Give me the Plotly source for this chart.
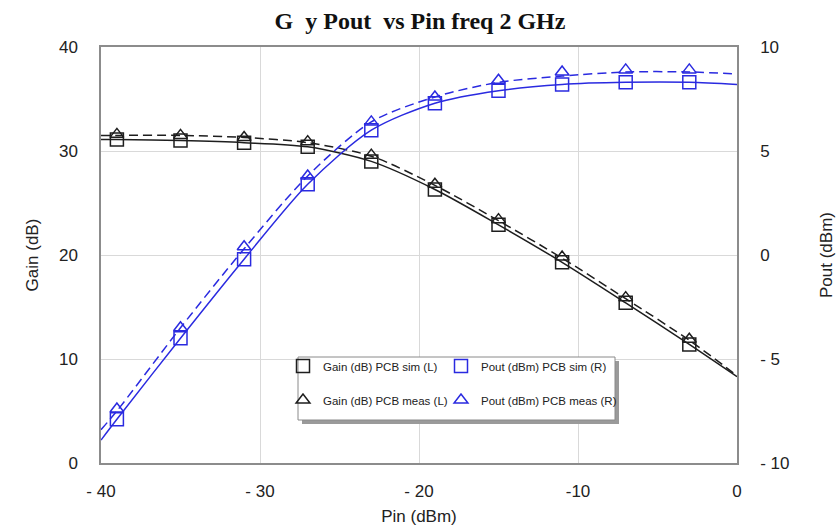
import plotly.graph_objects as go

# ---- data ----
pin_line = [-40, -39, -35, -31, -27, -23, -19, -15, -11, -7, -3, 0]
gain_sim_line = [31.1, 31.1, 31.0, 30.8, 30.4, 29.0, 26.3, 22.9, 19.3, 15.4, 11.4, 8.3]
gain_meas_line = [31.5, 31.5, 31.5, 31.3, 30.8, 29.5, 26.7, 23.3, 19.7, 15.8, 11.8, 8.4]
pout_sim_line = [-8.9, -7.9, -4.0, -0.2, 3.4, 6.0, 7.3, 7.9, 8.2, 8.3, 8.3, 8.2]
pout_meas_line = [-8.4, -7.5, -3.5, 0.3, 3.8, 6.4, 7.6, 8.3, 8.6, 8.8, 8.8, 8.7]

pin_pts = [-39, -35, -31, -27, -23, -19, -15, -11, -7, -3]
gain_sim_pts = [31.1, 31.0, 30.8, 30.4, 29.0, 26.3, 22.9, 19.3, 15.4, 11.4]
gain_meas_pts = [31.6, 31.5, 31.3, 30.9, 29.6, 26.8, 23.4, 19.8, 15.9, 11.9]
pout_sim_pts = [-7.9, -4.0, -0.2, 3.4, 6.0, 7.3, 7.9, 8.2, 8.3, 8.3]
pout_meas_pts = [-7.4, -3.5, 0.4, 3.8, 6.4, 7.6, 8.4, 8.8, 8.9, 8.9]

x_ticks = [-40, -30, -20, -10, 0]
x_ticktext = ["- 40", "- 30", "- 20", "-10", "0"]
y_ticks = [0, 10, 20, 30, 40]
y_ticktext = ["0", "10", "20", "30", "40"]
y2_ticks = [-10, -5, 0, 5, 10]
y2_ticktext = ["- 10", "- 5", "0", "5", "10"]

BLACK = "#1e1e1e"
BLUE = "#2a2ae0"
DASH = "9px,5px"
FONT = "Liberation Sans, Arial, sans-serif"

fig = go.Figure()

# curves
fig.add_trace(go.Scatter(x=pin_line, y=gain_sim_line, mode="lines", yaxis="y",
                         line=dict(color=BLACK, width=1.5, shape="spline", smoothing=0.8),
                         showlegend=False, hoverinfo="skip"))
fig.add_trace(go.Scatter(x=pin_line, y=gain_meas_line, mode="lines", yaxis="y",
                         line=dict(color=BLACK, width=1.5, dash=DASH, shape="spline", smoothing=0.8),
                         showlegend=False, hoverinfo="skip"))
fig.add_trace(go.Scatter(x=pin_line, y=pout_sim_line, mode="lines", yaxis="y2",
                         line=dict(color=BLUE, width=1.5, shape="spline", smoothing=0.8),
                         showlegend=False, hoverinfo="skip"))
fig.add_trace(go.Scatter(x=pin_line, y=pout_meas_line, mode="lines", yaxis="y2",
                         line=dict(color=BLUE, width=1.5, dash=DASH, shape="spline", smoothing=0.8),
                         showlegend=False, hoverinfo="skip"))

# markers (legend entries)
fig.add_trace(go.Scatter(x=pin_pts, y=gain_sim_pts, mode="markers", yaxis="y",
                         name="Gain (dB) PCB sim (L)", legend="legend",
                         marker=dict(symbol="square-open", size=13, color=BLACK,
                                     line=dict(width=1.5, color=BLACK))))
fig.add_trace(go.Scatter(x=pin_pts, y=pout_sim_pts, mode="markers", yaxis="y2",
                         name="Pout (dBm) PCB sim (R)", legend="legend2",
                         marker=dict(symbol="square-open", size=13, color=BLUE,
                                     line=dict(width=1.5, color=BLUE))))
fig.add_trace(go.Scatter(x=pin_pts, y=gain_meas_pts, mode="markers", yaxis="y",
                         name="Gain (dB) PCB meas (L)", legend="legend3",
                         marker=dict(symbol="triangle-up-open", size=12, color=BLACK,
                                     line=dict(width=1.5, color=BLACK))))
fig.add_trace(go.Scatter(x=pin_pts, y=pout_meas_pts, mode="markers", yaxis="y2",
                         name="Pout (dBm) PCB meas (R)", legend="legend4",
                         marker=dict(symbol="triangle-up-open", size=12, color=BLUE,
                                     line=dict(width=1.5, color=BLUE))))

L, R, T, B = 101, 102, 47, 69
W, H = 839, 532
pw, ph = W - L - R, H - T - B


def px(xp):
    return (xp - L) / pw


def py(yp):
    return (H - B - yp) / ph


leg_common = dict(bgcolor="rgba(0,0,0,0)", borderwidth=0,
                  font=dict(family=FONT, size=11.5, color="#222"),
                  xanchor="left", yanchor="middle", itemwidth=30)
fig.update_layout(
    legend=dict(x=px(283), y=py(366), **leg_common),
    legend2=dict(x=px(441), y=py(366), **leg_common),
    legend3=dict(x=px(283), y=py(400), **leg_common),
    legend4=dict(x=px(441), y=py(400), **leg_common),
)

# legend box with shadow
fig.add_shape(type="rect", xref="paper", yref="paper",
              x0=px(302), x1=px(619), y0=py(424), y1=py(361),
              fillcolor="#9a9a9a", line=dict(width=0), layer="above")
fig.add_shape(type="rect", xref="paper", yref="paper",
              x0=px(298), x1=px(615), y0=py(420), y1=py(357),
              fillcolor="white", line=dict(color="#8a8a8a", width=1), layer="above")

axis_common = dict(showline=True, linecolor="#8c8c8c", linewidth=1.5, zeroline=False,
                   tickfont=dict(family=FONT, size=17, color="#222"),
                   ticks="outside", tickcolor="rgba(0,0,0,0)")

fig.update_layout(
    width=W, height=H,
    margin=dict(l=L, r=R, t=T, b=B, autoexpand=False),
    paper_bgcolor="white", plot_bgcolor="white",
    title=dict(text="<b>G\u00a0\u00a0y Pout\u00a0 vs Pin freq 2 GHz</b>",
               x=px(420), xref="paper", xanchor="center", y=1 - 21 / H, yanchor="middle",
               font=dict(family="Liberation Serif, Times New Roman, serif", size=24, color="#111")),
    xaxis=dict(range=[-40, 0], tickvals=x_ticks, ticktext=x_ticktext, ticklen=12,
               showgrid=True, gridcolor="#d9d9d9", gridwidth=1, mirror=True,
               title=dict(text="Pin (dBm)", standoff=10,
                          font=dict(family=FONT, size=17, color="#222")),
               **axis_common),
    yaxis=dict(range=[0, 40], tickvals=y_ticks, ticktext=y_ticktext, ticklen=18,
               showgrid=True, gridcolor="#d9d9d9", gridwidth=1, mirror=True,
               title=dict(text="Gain (dB)", standoff=16,
                          font=dict(family=FONT, size=17, color="#222")),
               **axis_common),
    yaxis2=dict(range=[-10, 10], tickvals=y2_ticks, ticktext=y2_ticktext, ticklen=18,
                overlaying="y", side="right", showgrid=False,
                title=dict(text="Pout (dBm)", standoff=32,
                           font=dict(family=FONT, size=17, color="#222")),
                **axis_common),
)

fig.write_html("out.html")
